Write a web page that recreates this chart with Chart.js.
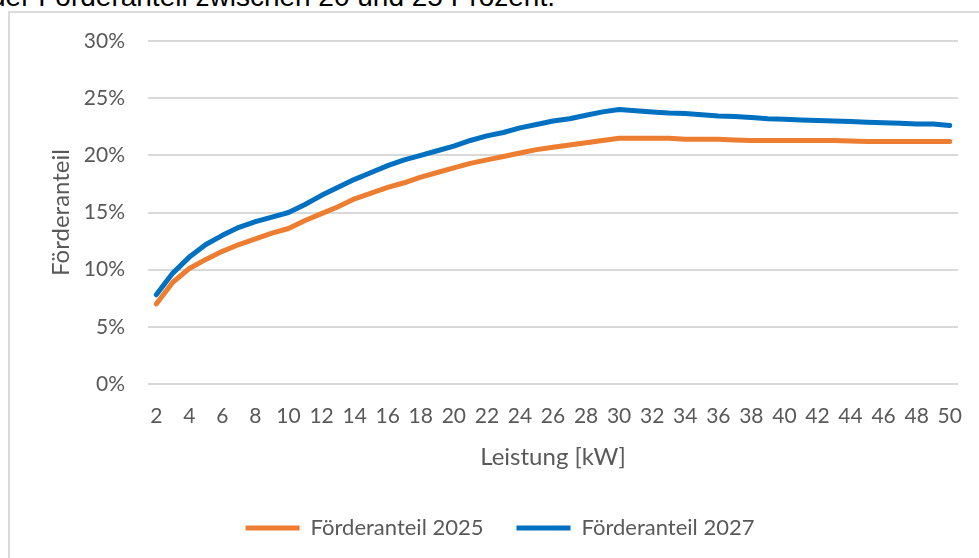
<!DOCTYPE html>
<html>
<head>
<meta charset="utf-8">
<script src="https://cdn.jsdelivr.net/npm/chart.js@4"></script>
<style>
  html, body { margin: 0; padding: 0; background: #fff; width: 979px; height: 558px; overflow: hidden; }
  #wrap { position: relative; width: 979px; height: 558px; }
  #frame { position: absolute; left: 8px; top: 11px; width: 1100px; height: 700px; border-left: 2px solid #d9d9d9; border-top: 2px solid #dcdcdc; box-sizing: border-box; }
  #caption { position: absolute; right: 424px; top: -17px; font: 28px "Liberation Sans", Arial, sans-serif; line-height: 28px; color: #000; white-space: nowrap; }
  canvas { position: absolute; left: 0; top: 0; }
</style>
</head>
<body>
<div id="wrap">
  <div id="caption">der Förderanteil zwischen 20 und 25 Prozent.</div>
  <div id="frame"></div>
  <canvas id="c" width="979" height="558"></canvas>
</div>
<script>
const categories = [2,3,4,5,6,7,8,9,10,11,12,13,14,15,16,17,18,19,20,21,22,23,24,25,26,27,28,29,30,31,32,33,34,35,36,37,38,39,40,41,42,43,44,45,46,47,48,49,50];
const foerder2025 = [7.0,8.9,10.1,10.9,11.6,12.2,12.7,13.2,13.6,14.3,14.9,15.5,16.2,16.7,17.2,17.6,18.1,18.5,18.9,19.3,19.6,19.9,20.2,20.5,20.7,20.9,21.1,21.3,21.5,21.5,21.5,21.5,21.4,21.4,21.4,21.35,21.3,21.3,21.3,21.3,21.3,21.3,21.25,21.2,21.2,21.2,21.2,21.2,21.2];
const foerder2027 = [7.8,9.7,11.1,12.2,13.0,13.7,14.2,14.6,15.0,15.7,16.5,17.2,17.9,18.5,19.1,19.6,20.0,20.4,20.8,21.3,21.7,22.0,22.4,22.7,23.0,23.2,23.5,23.8,24.0,23.9,23.8,23.7,23.65,23.55,23.45,23.4,23.3,23.2,23.15,23.1,23.05,23.0,22.95,22.9,22.85,22.8,22.75,22.75,22.6];
const yTicks = [0,5,10,15,20,25,30];
const seriesNames = ['Förderanteil 2025', 'Förderanteil 2027'];
const yTitle = 'Förderanteil';
const xTitle = 'Leistung [kW]';

const FONT = 'Lato, "Open Sans", sans-serif';
const TXT = '#595959';

const shiftLegend = {
  id: 'shiftLegend',
  afterLayout(chart) {
    const l = chart.legend;
    if (l) { l.left += 21; l.right += 21; }
  }
};

new Chart(document.getElementById('c'), {
  type: 'line',
  data: {
    labels: categories,
    datasets: [
      { label: seriesNames[0], data: foerder2025, borderColor: '#ED7D31', backgroundColor: '#ED7D31', borderWidth: 5, pointRadius: 0, tension: 0, borderCapStyle: 'round', borderJoinStyle: 'round' },
      { label: seriesNames[1], data: foerder2027, borderColor: '#0070C0', backgroundColor: '#0070C0', borderWidth: 5, pointRadius: 0, tension: 0, borderCapStyle: 'round', borderJoinStyle: 'round' }
    ]
  },
  plugins: [shiftLegend],
  options: {
    responsive: false,
    animation: false,
    events: [],
    layout: { padding: { left: 0, right: 21, top: 41, bottom: 9 } },
    plugins: {
      tooltip: { enabled: false },
      legend: {
        position: 'bottom',
        labels: {
          usePointStyle: true,
          pointStyle: 'line',
          pointStyleWidth: 54,
          padding: 33,
          color: TXT,
          font: { family: FONT, size: 22 }
        }
      }
    },
    scales: {
      x: {
        type: 'category',
        offset: true,
        grid: { display: false },
        border: { display: false },
        ticks: {
          autoSkip: false, maxRotation: 0, minRotation: 0, padding: 12,
          color: TXT, font: { family: FONT, size: 21 },
          callback: function(v, i) { return categories[i] % 2 === 0 ? String(categories[i]) : ''; }
        },
        title: { display: true, text: xTitle, color: TXT, font: { family: FONT, size: 24 }, padding: { top: 0, bottom: 12 } },
        afterFit: function(s) { s.height = 100; }
      },
      y: {
        min: 0, max: 30,
        afterBuildTicks: function(s) { s.ticks = yTicks.map(v => ({ value: v })); },
        grid: { color: '#d9d9d9', lineWidth: 2, drawTicks: false },
        border: { display: false },
        ticks: { padding: 23, color: TXT, font: { family: FONT, size: 21 }, callback: v => v + '%' },
        title: { display: true, text: yTitle, color: TXT, font: { family: FONT, size: 24 }, padding: { top: 47, bottom: 0 } },
        afterFit: function(s) { s.width = 148; }
      }
    }
  }
});
</script>
</body>
</html>
